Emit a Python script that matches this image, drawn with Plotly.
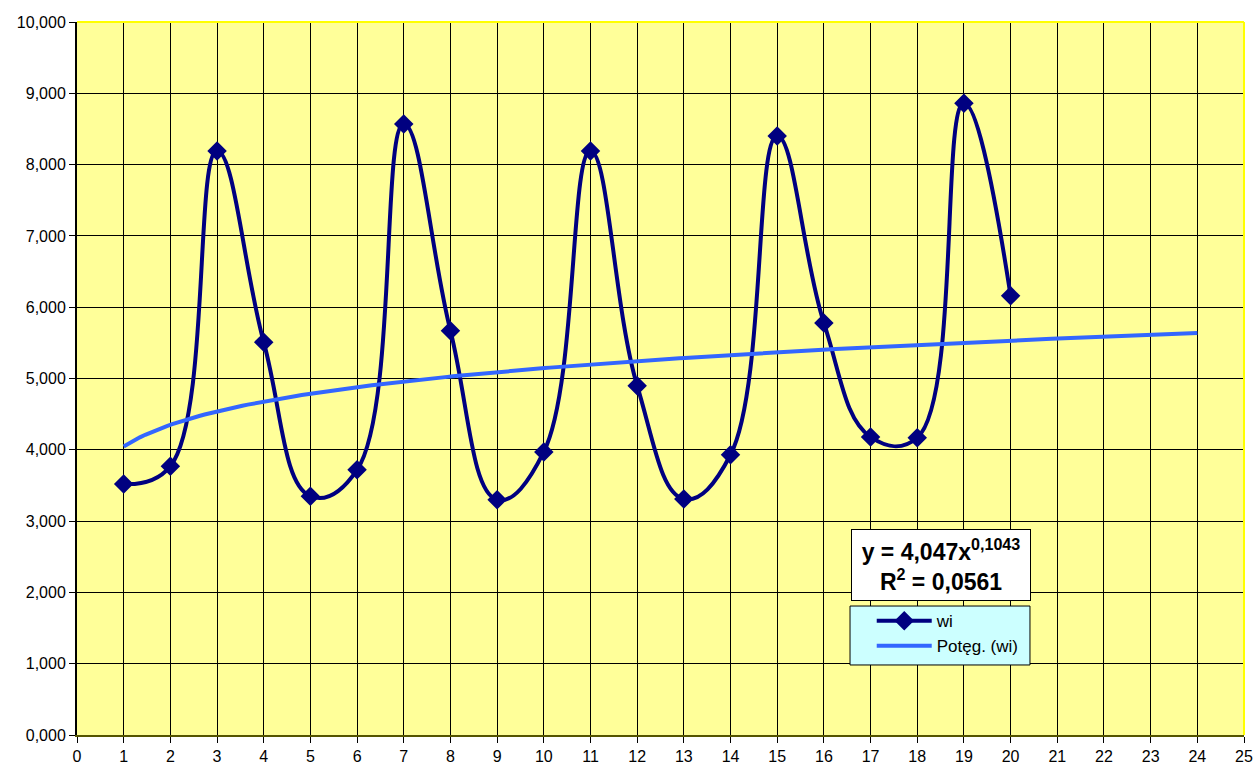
import numpy as np
import plotly.graph_objects as go

# Observed series "wi" for periods 1..20
periods = list(range(1, 21))
wi = [3.52, 3.77, 8.19, 5.51, 3.35, 3.72, 8.57, 5.67, 3.30, 3.97,
      8.19, 4.90, 3.31, 3.93, 8.40, 5.78, 4.18, 4.17, 8.86, 6.16]

# Power trendline y = a * x^b, shown for periods 1..24
trend_a = 4.047
trend_b = 0.1043
trend_r2 = 0.0561
trend_start, trend_end = 1, 24

x_ticks = list(range(0, 26))
y_ticks = list(range(0, 11))

tx = np.linspace(trend_start, trend_end, 200)
ty = trend_a * tx ** trend_b

fig = go.Figure()

fig.add_trace(go.Scatter(
    x=periods, y=wi, name="wi", mode="lines+markers",
    line=dict(color="#000080", width=4, shape="spline", smoothing=1.2),
    marker=dict(symbol="diamond", size=15, color="#000080"),
))
fig.add_trace(go.Scatter(
    x=tx, y=ty, name="Potęg. (wi)", mode="lines",
    line=dict(color="#3366FF", width=4),
))

axis_font = dict(family="Liberation Sans, Arial", size=16, color="black")

fig.update_layout(
    width=1255, height=772,
    margin=dict(l=77, r=11, t=22, b=37),
    paper_bgcolor="white",
    plot_bgcolor="#FFFF99",
    separators=",.",
    font=axis_font,
    showlegend=True,
    legend=dict(
        x=0.681, y=0.185, xanchor="left", yanchor="top",
        bgcolor="rgba(0,0,0,0)", borderwidth=0,
        font=dict(family="Liberation Sans, Arial", size=17, color="black"),
        itemwidth=55, tracegroupgap=0,
    ),
    xaxis=dict(
        range=[0, 25], tickmode="array", tickvals=x_ticks,
        ticktext=[str(v) for v in x_ticks], automargin=False,
        showgrid=True, gridcolor="black", gridwidth=1,
        zeroline=False, showline=True, linecolor="#555500", linewidth=2,
        ticks="outside", ticklen=6, tickcolor="black",
        tickfont=axis_font,
    ),
    yaxis=dict(
        range=[0, 10], tickmode="array", tickvals=y_ticks,
        tickformat=".3f", automargin=False,
        showgrid=True, gridcolor="black", gridwidth=1,
        zeroline=False, showline=True, linecolor="black", linewidth=2,
        ticks="outside", ticklen=6, tickcolor="black",
        tickfont=axis_font,
    ),
    shapes=[
        dict(type="line", xref="paper", yref="paper", x0=0, x1=1, y0=1, y1=1,
             line=dict(color="#FFFF00", width=2), layer="above"),
        dict(type="line", xref="paper", yref="paper", x0=1, x1=1, y0=0, y1=1,
             line=dict(color="#FFFF00", width=2), layer="above"),
        # legend panel
        dict(type="rect", xref="paper", yref="paper",
             x0=0.6624, x1=0.8166, y0=0.0982, y1=0.1809,
             fillcolor="#CCFFFF", line=dict(color="black", width=1),
             layer="above"),
    ],
    annotations=[
        dict(
            xref="paper", yref="paper", x=0.7404, y=0.238,
            xanchor="center", yanchor="middle", showarrow=False,
            text=("<b>y = 4,047x<sup>0,1043</sup></b><br>"
                  "<b>R<sup>2</sup> = 0,0561</b>"),
            font=dict(family="Liberation Sans, Arial", size=23, color="black"),
            bgcolor="white", bordercolor="black", borderwidth=1,
            borderpad=5, align="center", width=168,
        )
    ],
)

fig.write_html("out.html")
